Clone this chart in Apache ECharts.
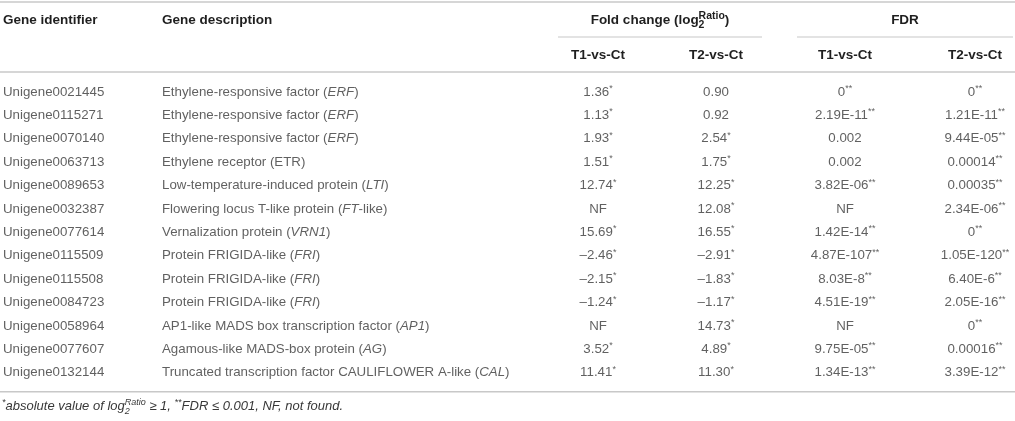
<!DOCTYPE html>
<html>
<head>
<meta charset="utf-8">
<script src="https://cdn.jsdelivr.net/npm/echarts/dist/echarts.min.js"></script>
<style>
html,body{margin:0;padding:0;background:#fff;}
#chart{width:1015px;height:421px;}
</style>
</head>
<body>
<div id="chart"></div>
<script>
// ---------------- data ----------------
const geneIds = [
  'Unigene0021445','Unigene0115271','Unigene0070140','Unigene0063713','Unigene0089653',
  'Unigene0032387','Unigene0077614','Unigene0115509','Unigene0115508','Unigene0084723',
  'Unigene0058964','Unigene0077607','Unigene0132144'
];
// _X_ marks italic text
const descriptions = [
  'Ethylene-responsive factor (_ERF_)',
  'Ethylene-responsive factor (_ERF_)',
  'Ethylene-responsive factor (_ERF_)',
  'Ethylene receptor (ETR)',
  'Low-temperature-induced protein (_LTI_)',
  'Flowering locus T-like protein (_FT_-like)',
  'Vernalization protein (_VRN1_)',
  'Protein FRIGIDA-like (_FRI_)',
  'Protein FRIGIDA-like (_FRI_)',
  'Protein FRIGIDA-like (_FRI_)',
  'AP1-like MADS box transcription factor (_AP1_)',
  'Agamous-like MADS-box protein (_AG_)',
  'Truncated transcription factor CAULIFLOWER A-like (_CAL_)'
];
// fold change log2 ratio (null = NF, not found)
const foldT1 = [1.36, 1.13, 1.93, 1.51, 12.74, null, 15.69, -2.46, -2.15, -1.24, null, 3.52, 11.41];
const foldT2 = [0.90, 0.92, 2.54, 1.75, 12.25, 12.08, 16.55, -2.91, -1.83, -1.17, 14.73, 4.89, 11.30];
// FDR (null = NF)
const fdrT1 = ['0','2.19E-11','0.002','0.002','3.82E-06',null,'1.42E-14','4.87E-107','8.03E-8','4.51E-19',null,'9.75E-05','1.34E-13'];
const fdrT2 = ['0','1.21E-11','9.44E-05','0.00014','0.00035','2.34E-06','0','1.05E-120','6.40E-6','2.05E-16','0','0.00016','3.39E-12'];
const headerLabels = ['Gene identifier','Gene description','Fold change','FDR'];
const subHeaders = ['T1-vs-Ct','T2-vs-Ct','T1-vs-Ct','T2-vs-Ct'];

// ---------------- layout / style ----------------
const W = 1015;
const FONT = '"Liberation Sans", Arial, Helvetica, sans-serif';
const TEXT = '#383838', HEAD = '#1f1f1f', RULE = '#c8c8c8';
const FS = 13.3, HFS = 13.5;
const ROW0 = 92, ROWH = 23.4, NROW = geneIds.length;
const COLX = {id: 3, desc: 162, f1: 598, f2: 716, q1: 845, q2: 975};
const HEAD_Y = 20, SUB_Y = 55;

const ctx = document.createElement('canvas').getContext('2d');
function tw(t, size, weight, style) {
  ctx.font = (style || 'normal') + ' ' + (weight || 'normal') + ' ' + size + 'px ' + FONT;
  return ctx.measureText(t).width;
}

const rich = {
  sup: {fontSize: 9, lineHeight: 9, verticalAlign: 'top', fontFamily: FONT, color: TEXT},
  it: {fontSize: FS, lineHeight: 16, fontStyle: 'italic', fontFamily: FONT, color: TEXT}
};

function fmtFold(v) {
  if (v == null) return 'NF';
  const s = (v < 0 ? '\u2013' : '') + Math.abs(v).toFixed(2);
  return Math.abs(v) >= 1 ? s + '{sup|*}' : s;
}
function fmtFdr(v) {
  if (v == null) return 'NF';
  return Number(v) <= 0.001 ? v + '{sup|**}' : v;
}
function fmtDesc(s) { return s.replace(/_([^_]+)_/g, '{it|$1}'); }
function fmtPlain(s) { return s; }

function colSeries(name, x, values, fmt, align) {
  return {
    type: 'scatter', name: name, silent: true, symbolSize: 1,
    itemStyle: {color: 'rgba(0,0,0,0)'},
    data: geneIds.map((g, i) => ({value: [x, g], txt: fmt(values[i])})),
    label: {
      show: true, position: 'inside', align: align, verticalAlign: 'middle',
      fontSize: FS, lineHeight: 16, fontFamily: FONT, color: TEXT,
      formatter: p => p.data.txt, rich: rich
    }
  };
}

// inline text runs with stacked super/subscripts
function inlineRuns(x, y, parts, anchor, base) {
  const els = [];
  const widths = parts.map(p => p.stack
    ? Math.max.apply(null, p.stack.map(s => tw(s.t, s.size, base.weight, base.style)))
    : tw(p.t, p.size || base.size, base.weight, base.style));
  const total = widths.reduce((a, b) => a + b, 0);
  let cx = anchor === 'center' ? x - total / 2 : x;
  parts.forEach((p, i) => {
    const items = p.stack || [p];
    items.forEach(s => {
      els.push({
        type: 'text', x: cx, y: y + (s.dy || 0), silent: true,
        style: {
          text: s.t, fontSize: s.size || base.size, fontFamily: FONT,
          fontWeight: base.weight || 'normal', fontStyle: base.style || 'normal',
          fill: base.color, align: 'left', verticalAlign: 'middle',
          textAlign: 'left', textVerticalAlign: 'middle'
        }
      });
    });
    cx += widths[i];
  });
  return els;
}

function hline(x1, x2, y, w) {
  return {type: 'line', silent: true, shape: {x1: x1, y1: y, x2: x2, y2: y},
    style: {stroke: RULE, lineWidth: w || 1.5}};
}
function htext(t, x, y, align) {
  return {type: 'text', x: x, y: y, silent: true,
    style: {text: t, fontSize: HFS, fontWeight: 'bold', fontFamily: FONT, fill: HEAD,
      align: align, verticalAlign: 'middle', textAlign: align, textVerticalAlign: 'middle'}};
}

const graphics = [
  hline(0, W, 2, 1.5),
  hline(558, 762, 37, 1.2),
  hline(797, W - 2, 37, 1.2),
  hline(0, W, 72, 1.5),
  hline(0, W, ROW0 + ROWH * (NROW - 1) + 19, 1.5),
  htext(headerLabels[0], COLX.id, HEAD_Y, 'left'),
  htext(headerLabels[1], COLX.desc, HEAD_Y, 'left'),
  htext(headerLabels[3], 905, HEAD_Y, 'center'),
  htext(subHeaders[0], COLX.f1, SUB_Y, 'center'),
  htext(subHeaders[1], COLX.f2, SUB_Y, 'center'),
  htext(subHeaders[2], COLX.q1, SUB_Y, 'center'),
  htext(subHeaders[3], COLX.q2, SUB_Y, 'center')
].concat(
  inlineRuns(660, HEAD_Y, [
    {t: headerLabels[2] + ' (log'},
    {stack: [{t: 'Ratio', size: 10.5, dy: -4}, {t: '2', size: 10.5, dy: 5}]},
    {t: ')'}
  ], 'center', {size: HFS, weight: 'bold', color: HEAD})
).concat(
  inlineRuns(2, ROW0 + ROWH * (NROW - 1) + 34, [
    {t: '*', size: 9, dy: -4},
    {t: 'absolute value of log'},
    {stack: [{t: 'Ratio', size: 9, dy: -4}, {t: '2', size: 9, dy: 5}]},
    {t: ' \u2265 1, '},
    {t: '**', size: 9, dy: -4},
    {t: 'FDR \u2264 0.001, NF, not found.'}
  ], 'left', {size: 13, style: 'italic', color: TEXT})
);

const chart = echarts.init(document.getElementById('chart'), null, {renderer: 'canvas'});
chart.setOption({
  animation: false,
  backgroundColor: '#fff',
  grid: {left: 0, right: 0, top: ROW0 - ROWH / 2, height: ROWH * NROW, containLabel: false},
  xAxis: {type: 'value', min: 0, max: W, show: false},
  yAxis: {type: 'category', data: geneIds, inverse: true, show: false},
  series: [
    colSeries('id', COLX.id, geneIds, fmtPlain, 'left'),
    colSeries('desc', COLX.desc, descriptions, fmtDesc, 'left'),
    colSeries('foldT1', COLX.f1, foldT1, fmtFold, 'center'),
    colSeries('foldT2', COLX.f2, foldT2, fmtFold, 'center'),
    colSeries('fdrT1', COLX.q1, fdrT1, fmtFdr, 'center'),
    colSeries('fdrT2', COLX.q2, fdrT2, fmtFdr, 'center')
  ],
  graphic: {elements: graphics}
});
</script>
</body>
</html>
